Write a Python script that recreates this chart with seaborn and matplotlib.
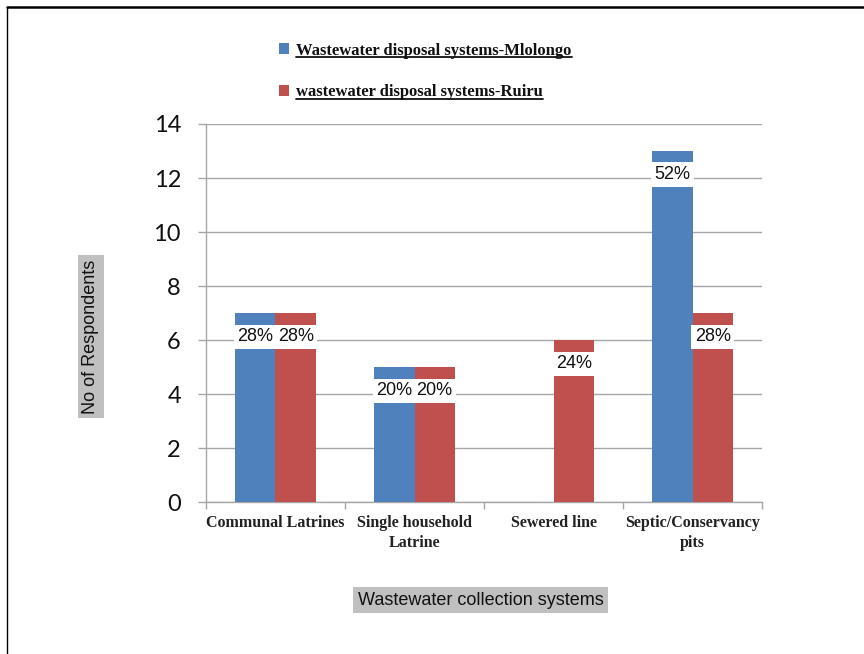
import matplotlib
matplotlib.use("Agg")
import matplotlib.pyplot as plt
from matplotlib.lines import Line2D
from matplotlib.patches import Patch
import seaborn as sns
import pandas as pd

# Survey counts per wastewater collection system
categories = ["Communal Latrines", "Single household\nLatrine", "Sewered line", "Septic/Conservancy\npits"]
mlolongo = [7, 5, 0, 13]
ruiru = [7, 5, 6, 7]
series_names = ["Wastewater disposal systems-Mlolongo", "wastewater disposal systems-Ruiru"]
colors = ["#4F81BD", "#C0504D"]
y_ticks = [0, 2, 4, 6, 8, 10, 12, 14]

df = pd.DataFrame({
    "system": categories * 2,
    "count": mlolongo + ruiru,
    "site": [series_names[0]] * len(categories) + [series_names[1]] * len(categories),
})

sns.set_theme(style="white")
plt.rcParams["font.family"] = ["Liberation Sans", "DejaVu Sans"]

fig = plt.figure(figsize=(8.64, 6.54), dpi=100)
ax = fig.add_axes([0.2384, 0.2324, 0.6436, 0.578])

sns.barplot(data=df, x="system", y="count", hue="site", order=categories,
            hue_order=series_names, palette=colors, width=0.58, gap=0,
            saturation=1, errorbar=None, legend=False, ax=ax, zorder=3)
for p in ax.patches:
    p.set_edgecolor("none")

ax.set_ylim(0, 14)
ax.set_yticks(y_ticks)
ax.set_xlim(-0.5, len(categories) - 0.5)
ax.yaxis.grid(True, color="#a6a6a6", linewidth=1, zorder=0)
ax.set_axisbelow(True)
for side in ["top", "right"]:
    ax.spines[side].set_visible(False)
for side in ["left", "bottom"]:
    ax.spines[side].set_color("#a6a6a6")
    ax.spines[side].set_linewidth(1)

# category boundaries as x tick marks, labels centred under groups
ax.set_xticks([i for i in range(len(categories))])
ax.set_xticklabels(categories, fontfamily="Liberation Serif", fontweight="bold",
                   fontsize=11.5, color="#222222", linespacing=1.4)
ax.set_xticks([i - 0.5 for i in range(len(categories) + 1)], minor=True)
ax.tick_params(axis="x", which="major", length=0, pad=9)
ax.tick_params(axis="x", which="minor", length=5, color="#a6a6a6", width=1, direction="out")
ax.tick_params(axis="y", length=6, color="#a6a6a6", width=1, direction="out",
               labelsize=17, pad=12, labelcolor="#111111")
for lbl in ax.get_yticklabels():
    lbl.set_fontfamily(["Lato", "DejaVu Sans"])
ax.tick_params(axis="both", bottom=True, left=True, which="both")
ax.set_xlabel("")
ax.set_ylabel("")

# percentage labels in white boxes just below the bar tops
for container, vals in zip(ax.containers, [mlolongo, ruiru]):
    total = sum(vals)
    for bar, v in zip(container, vals):
        if v <= 0:
            continue
        ax.annotate(f"{round(v / total * 100)}%",
                    (bar.get_x() + bar.get_width() / 2, bar.get_height()),
                    xytext=(0, -17), textcoords="offset points",
                    ha="center", va="center", fontsize=13, color="#111111",
                    bbox=dict(boxstyle="square,pad=0.2", fc="white", ec="none"),
                    zorder=5)

# axis titles with grey backgrounds
fig.text(0.105, 0.485, "No of Respondents", rotation=90, ha="center", va="center",
         fontsize=13, color="#111111",
         bbox=dict(boxstyle="square,pad=0.25", fc="#c0c0c0", ec="none"))
fig.text(0.556, 0.082, "Wastewater collection systems", ha="center", va="center",
         fontsize=13, color="#111111",
         bbox=dict(boxstyle="square,pad=0.25", fc="#c0c0c0", ec="none"))

# legend at the top, underlined bold serif entries
handles = [Patch(facecolor=c, edgecolor="none") for c in colors]
leg = fig.legend(handles, series_names, loc="upper left", bbox_to_anchor=(0.315, 0.945),
                 frameon=False, handlelength=0.6, handleheight=0.6, handletextpad=0.45,
                 labelspacing=1.55, borderaxespad=0,
                 prop={"family": "Liberation Serif", "weight": "bold", "size": 12})
for t in leg.get_texts():
    t.set_color("#111111")

fig.canvas.draw()
inv = fig.transFigure.inverted()
for t in leg.get_texts():
    bb = t.get_window_extent()
    (x0, y0), (x1, _) = inv.transform([(bb.x0, bb.y0), (bb.x1, bb.y1)])
    fig.add_artist(Line2D([x0, x1], [y0 + 0.003, y0 + 0.003], color="#111111",
                          linewidth=1.3, transform=fig.transFigure))

# outer frame (top and left edges)
fig.add_artist(Line2D([0.008, 1.0], [0.989, 0.989], color="black", linewidth=1.8,
                      transform=fig.transFigure))
fig.add_artist(Line2D([0.008, 0.008], [0.0, 0.989], color="black", linewidth=1.0,
                      transform=fig.transFigure))

fig.savefig("out.png", dpi=100, facecolor="white")
